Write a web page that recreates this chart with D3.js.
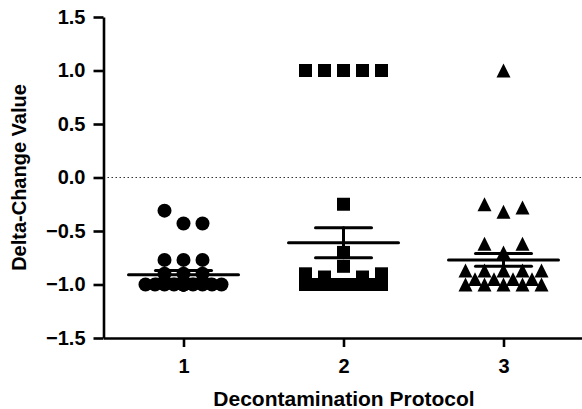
<!DOCTYPE html>
<html><head><meta charset="utf-8">
<script src="https://cdn.jsdelivr.net/npm/d3@7"></script>
<style>
body{margin:0;background:#fff}
text{font-family:"Liberation Sans",Arial,Helvetica,sans-serif;font-weight:bold;fill:#000}
</style>
</head><body>
<svg id="c" width="582" height="409"></svg>
<script>
// ---- data ----
const categories = ["1", "2", "3"];
const yTicks = [-1.5, -1.0, -0.5, 0.0, 0.5, 1.0, 1.5];
const protocol1 = [-0.43, -0.43, -0.31, -0.77, -0.77, -0.77, -0.90, -0.90, -0.90,
  -1.0, -1.0, -1.0, -1.0, -1.0, -1.0, -1.0, -1.0, -1.0, -1.0, -1.0, -1.0, -1.0, -1.0];
const protocol2 = [1.0, 1.0, 1.0, 1.0, 1.0, -0.25, -0.70, -0.83, -0.93, -0.93, -0.90, -0.90,
  -1.0, -1.0, -1.0, -1.0, -1.0, -1.0, -1.0, -1.0, -1.0, -1.0, -1.0, -1.0];
const protocol3 = [1.0, -0.32, -0.28, -0.25, -0.70, -0.62, -0.62,
  -0.87, -0.87, -0.87, -0.87, -0.87, -1.0, -1.0, -1.0, -1.0, -1.0,
  -0.95, -0.95, -0.95, -0.95];
const means = [-0.91, -0.61, -0.77];
const sems = [0.04, 0.14, 0.06];
const groups = [protocol1, protocol2, protocol3];

// ---- chart ----
const svg = d3.select("#c");
const x = d3.scaleLinear().domain([0.5, 3.5]).range([103.5, 583.5]);
const y = d3.scaleLinear().domain([-1.5, 1.5]).range([338, 17]);

// zero reference line
svg.append("line")
  .attr("x1", x(0.5)).attr("x2", x(3.5))
  .attr("y1", y(0)).attr("y2", y(0))
  .attr("stroke", "#333").attr("stroke-width", 1.2)
  .attr("stroke-dasharray", "1.5,2.5");

// column scatter layout (GraphPad-like)
function swarm(values, cx) {
  const placed = [];
  const slots = [0, 1, -1, 2, -2, 0.5, -0.5, 1.5, -1.5];
  const thr = 13.5, sp = 19;
  values.forEach(v => {
    const py = y(v);
    let best = 0, bestD = -1, free = false;
    for (const s of slots) {
      const px = cx + s * sp;
      let md = Infinity;
      placed.forEach(p => { md = Math.min(md, Math.hypot(p.x - px, p.y - py)); });
      if (md >= thr) { best = s; free = true; break; }
      if (md > bestD) { bestD = md; best = s; }
    }
    placed.push({ x: cx + best * sp, y: py, v });
  });
  return placed;
}

const tri = {
  draw(ctx, size) {
    const w = Math.sqrt(size) * 0.82, h = Math.sqrt(size) * 0.76;
    ctx.moveTo(0, -h / 2 - 0.5);
    ctx.lineTo(w / 2, h / 2 + 0.5);
    ctx.lineTo(-w / 2, h / 2 + 0.5);
    ctx.closePath();
  }
};
const symbols = [
  d3.symbol().type(d3.symbolCircle).size(Math.PI * 7 * 7),
  d3.symbol().type(d3.symbolSquare).size(13 * 13),
  d3.symbol().type(tri).size(290)
];

groups.forEach((vals, i) => {
  const pts = swarm(vals, x(i + 1));
  svg.append("g").selectAll("path").data(pts).join("path")
    .attr("transform", d => `translate(${d.x},${d.y})`)
    .attr("d", symbols[i]())
    .attr("fill", "#000");
});

// mean and SEM
const bars = svg.append("g").attr("stroke", "#000").attr("stroke-width", 3).attr("stroke-linecap", "round");
means.forEach((m, i) => {
  const cx = x(i + 1);
  bars.append("line").attr("x1", cx - 55).attr("x2", cx + 55).attr("y1", y(m)).attr("y2", y(m));
  bars.append("line").attr("x1", cx).attr("x2", cx).attr("y1", y(m - sems[i])).attr("y2", y(m + sems[i]));
  [m - sems[i], m + sems[i]].forEach(v =>
    bars.append("line").attr("x1", cx - 28).attr("x2", cx + 28).attr("y1", y(v)).attr("y2", y(v)));
});

// axes
const yAxis = svg.append("g").attr("transform", `translate(${x(0.5)},0)`)
  .call(d3.axisLeft(y).tickValues(yTicks).tickFormat(d3.format(".1f"))
    .tickSize(10).tickSizeOuter(0).tickPadding(8));
const xAxis = svg.append("g").attr("transform", `translate(0,${y(-1.5)})`)
  .call(d3.axisBottom(x).tickValues([1, 2, 3]).tickFormat(d => categories[d - 1])
    .tickSize(9).tickSizeOuter(0).tickPadding(12));
[yAxis, xAxis].forEach(a => {
  a.attr("font-family", null);
  a.select(".domain").attr("stroke", "#000").attr("stroke-width", 2.6);
  a.selectAll(".tick line").attr("stroke", "#000").attr("stroke-width", 2.6);
  a.selectAll(".tick text").attr("font-size", 20).attr("fill", "#000");
});

// titles
svg.append("text")
  .attr("transform", `translate(26,${(y(1.5) + y(-1.5)) / 2}) rotate(-90)`)
  .attr("text-anchor", "middle").attr("font-size", 20)
  .text("Delta-Change Value");
svg.append("text")
  .attr("x", 344).attr("y", 406)
  .attr("text-anchor", "middle").attr("font-size", 21)
  .text("Decontamination Protocol");
</script>
</body></html>
